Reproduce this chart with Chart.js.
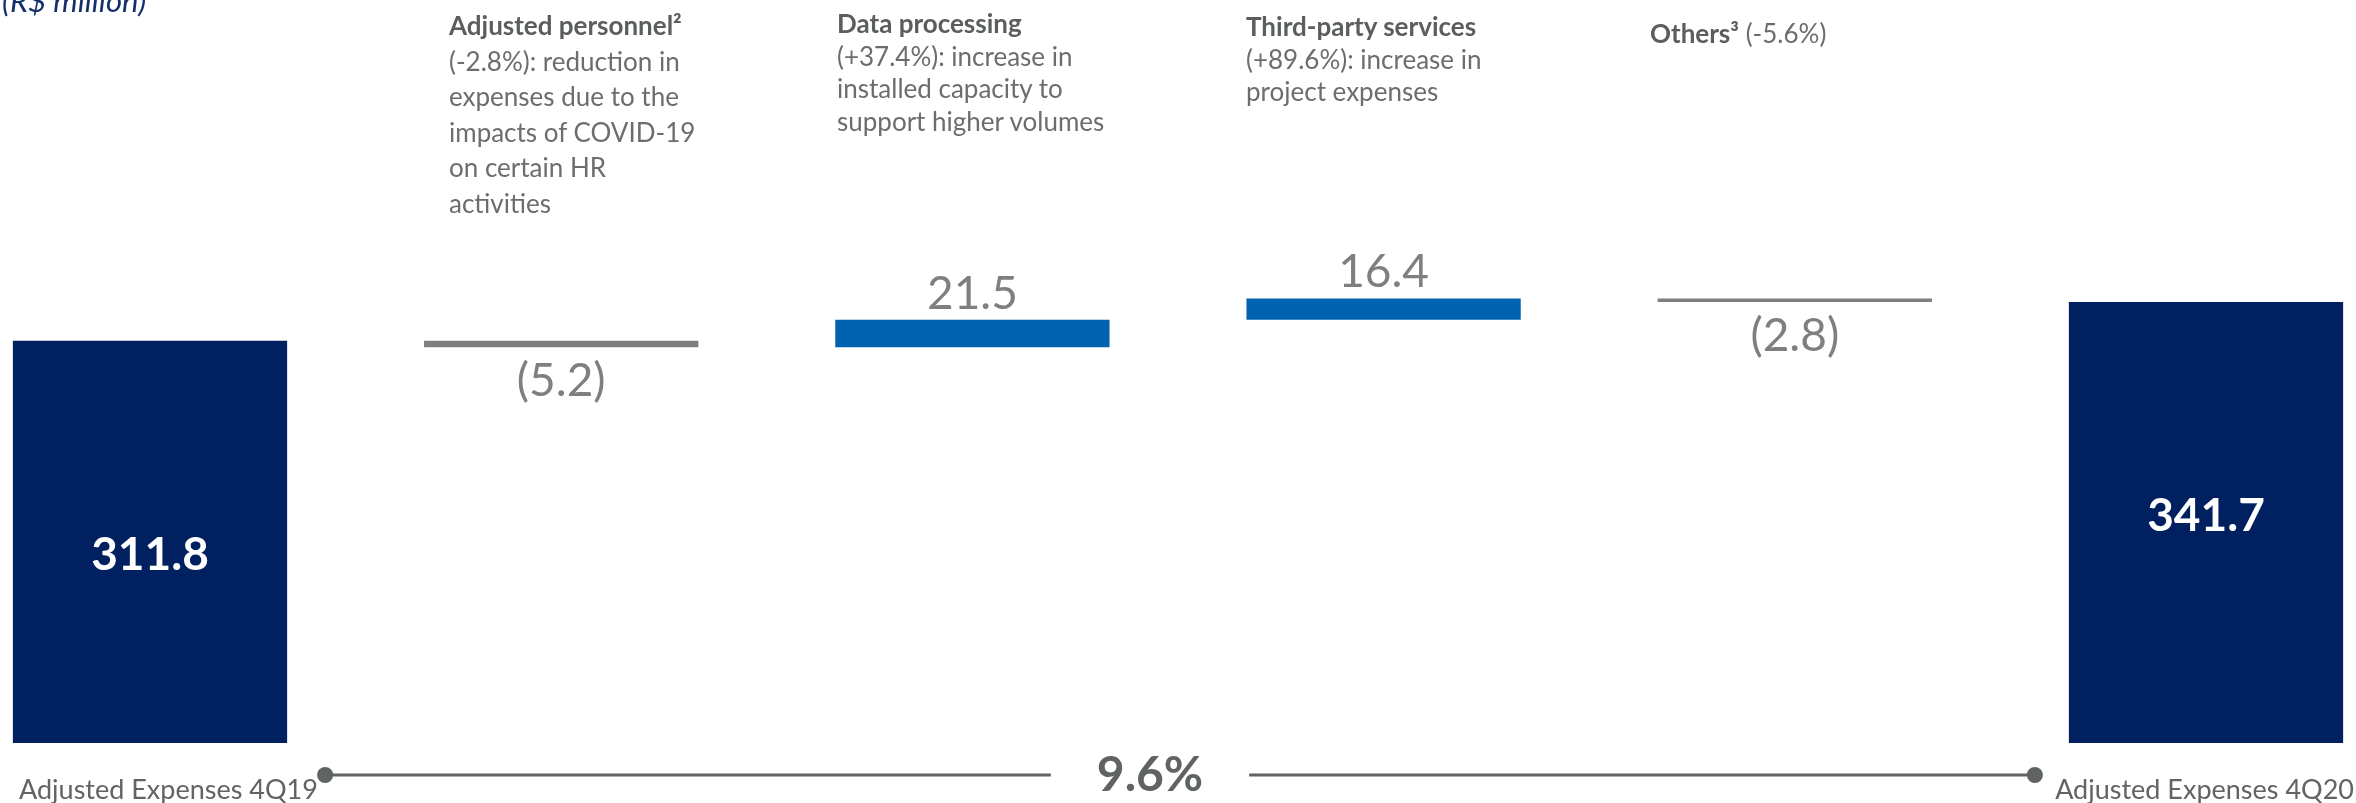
<!DOCTYPE html>
<html>
<head>
<meta charset="utf-8">
<script src="https://cdn.jsdelivr.net/npm/chart.js@4.4.1/dist/chart.umd.min.js"></script>
<style>
  html, body { margin: 0; padding: 0; background: #ffffff; overflow: hidden; }
  #wrap { position: relative; width: 2356px; height: 803px; overflow: hidden; background: #fff; }
  #c { position: absolute; left: 0; top: 0; }
  .note { position: absolute; font-family: Lato, 'Open Sans', sans-serif; font-size: 26px; color: #6a6e6d; white-space: nowrap; }
  .note b { color: #5a5e5d; font-weight: 700; }
  #unit { position: absolute; left: 2px; top: -15px; font-family: Lato, 'Open Sans', sans-serif; font-style: italic;
          font-size: 31px; line-height: 31px; color: #14306b; white-space: nowrap; }
</style>
</head>
<body>
<div id="wrap">
  <canvas id="c" width="2356" height="803"></canvas>
  <div id="unit">(R$ million)</div>
  <div class="note" id="n0" style="left:449px; top:8px; line-height:35.5px;"></div>
  <div class="note" id="n1" style="left:837px; top:7px; line-height:32.5px;"></div>
  <div class="note" id="n2" style="left:1246px; top:10px; line-height:32.5px;"></div>
  <div class="note" id="n3" style="left:1650px; top:17px; line-height:32.5px;"></div>
</div>
<script>
// ---------------- data ----------------
const categories = ['Adjusted Expenses 4Q19', 'Adjusted personnel²', 'Data processing',
                    'Third-party services', 'Others³', 'Adjusted Expenses 4Q20'];
const startTotal = 311.8;
const changes = [-5.2, 21.5, 16.4, -2.8];
const endTotal = 341.7;
const growthLabel = '9.6%';
const axisLabels = ['Adjusted Expenses 4Q19', '', '', '', '', 'Adjusted Expenses 4Q20'];
const noteTitles = ['Adjusted personnel²', 'Data processing', 'Third-party services', 'Others³'];
const noteLines = [
  ['(-2.8%): reduction in', 'expenses due to the', 'impacts of COVID-19', 'on certain HR', 'activities'],
  ['(+37.4%): increase in', 'installed capacity to', 'support higher volumes'],
  ['(+89.6%): increase in', 'project expenses'],
  ['(-5.6%)']
];
const noteInline = [false, false, false, true];

// ---------------- colours ----------------
const NAVY = '#00205f', BLUE = '#0062b1', GREY = '#7f7f7f';

// ---------------- build waterfall ranges from the arrays ----------------
const ranges = [];
const kinds = [];
const shownValues = [];
ranges.push([0, startTotal]); kinds.push('total'); shownValues.push(startTotal);
let running = startTotal;
changes.forEach(d => {
  const next = Math.round((running + d) * 10) / 10;
  ranges.push([Math.min(running, next), Math.max(running, next)]);
  kinds.push(d >= 0 ? 'up' : 'down');
  shownValues.push(d);
  running = next;
});
ranges.push([0, endTotal]); kinds.push('total'); shownValues.push(endTotal);
const colors = kinds.map(k => k === 'total' ? NAVY : (k === 'up' ? BLUE : GREY));

// ---------------- notes (HTML text) ----------------
noteTitles.forEach((t, i) => {
  const el = document.getElementById('n' + i);
  if (noteInline[i]) {
    el.innerHTML = '<b>' + t + '</b> ' + noteLines[i].join(' ');
  } else {
    el.innerHTML = '<b>' + t + '</b><br>' + noteLines[i].join('<br>');
  }
});

// ---------------- overlay plugin: value labels, axis labels, bracket ----------------
const overlay = {
  id: 'overlay',
  afterDatasetsDraw(chart) {
    const ctx = chart.ctx;
    const meta = chart.getDatasetMeta(0);
    const area = chart.chartArea;
    ctx.save();
    meta.data.forEach((bar, i) => {
      const top = Math.min(bar.y, bar.base);
      const bottom = Math.max(bar.y, bar.base);
      const v = shownValues[i];
      ctx.textAlign = 'center';
      ctx.textBaseline = 'alphabetic';
      if (kinds[i] === 'total') {
        ctx.font = 'bold 46px Lato, "Open Sans", sans-serif';
        ctx.fillStyle = '#ffffff';
        ctx.fillText(v.toFixed(1), bar.x, top + 229);
      } else if (kinds[i] === 'up') {
        ctx.font = '46px Lato, "Open Sans", sans-serif';
        ctx.fillStyle = '#7f7f7f';
        ctx.fillText(v.toFixed(1), bar.x, top - 11);
      } else {
        ctx.font = '46px Lato, "Open Sans", sans-serif';
        ctx.fillStyle = '#7f7f7f';
        ctx.fillText('(' + Math.abs(v).toFixed(1) + ')', bar.x, bottom + 49);
      }
    });

    // category labels under the totals
    ctx.font = '27px Lato, "Open Sans", sans-serif';
    ctx.fillStyle = '#606463';
    ctx.textBaseline = 'alphabetic';
    ctx.textAlign = 'center';
    meta.data.forEach((bar, i) => {
      const lab = axisLabels[i];
      if (!lab) return;
      const w = ctx.measureText(lab).width;
      let cx = bar.x;
      if (cx - w / 2 < 19) cx = 19 + w / 2;
      if (cx + w / 2 > chart.width - 2) cx = chart.width - 2 - w / 2;
      ctx.fillText(lab, cx, area.bottom + 56);
    });

    // growth bracket
    const b0 = meta.data[0], b5 = meta.data[meta.data.length - 1];
    const x0 = b0.x + b0.width / 2 + 38;
    const x1 = b5.x - b5.width / 2 - 34;
    const ly = area.bottom + 32;
    const tx = (x0 + x1) / 2 - 30;
    ctx.font = 'bold 48px Lato, "Open Sans", sans-serif';
    const tw = ctx.measureText(growthLabel).width;
    const gap = tw / 2 + 46;
    ctx.strokeStyle = '#5f6461';
    ctx.lineWidth = 3;
    ctx.beginPath();
    ctx.moveTo(x0, ly); ctx.lineTo(tx - gap, ly);
    ctx.moveTo(tx + gap, ly); ctx.lineTo(x1, ly);
    ctx.stroke();
    ctx.fillStyle = '#5f6461';
    [x0, x1].forEach(x => { ctx.beginPath(); ctx.arc(x, ly, 8, 0, Math.PI * 2); ctx.fill(); });
    ctx.textAlign = 'center';
    ctx.fillText(growthLabel, tx, area.bottom + 48);
    ctx.restore();
  }
};

function build() {
  new Chart(document.getElementById('c'), {
    type: 'bar',
    data: {
      labels: categories,
      datasets: [{
        data: ranges,
        backgroundColor: colors,
        borderWidth: 0,
        clip: false,
        categoryPercentage: 1,
        barPercentage: 0.667
      }]
    },
    options: {
      responsive: false,
      animation: false,
      devicePixelRatio: 1,
      layout: { padding: { left: 150, right: 150, top: 0, bottom: 60 } },
      plugins: { legend: { display: false }, tooltip: { enabled: false }, title: { display: false } },
      scales: {
        x: { type: 'category', offset: false, display: false, grid: { display: false } },
        y: { type: 'linear', min: 0, max: 575.8, display: false, grid: { display: false } }
      }
    },
    plugins: [overlay]
  });
}

const fontLoads = ['bold 46px Lato', '46px Lato', '27px Lato', 'bold 48px Lato', 'italic 31px Lato']
  .map(f => document.fonts.load(f).catch(() => null));
Promise.all(fontLoads).then(build, build);
</script>
</body>
</html>
